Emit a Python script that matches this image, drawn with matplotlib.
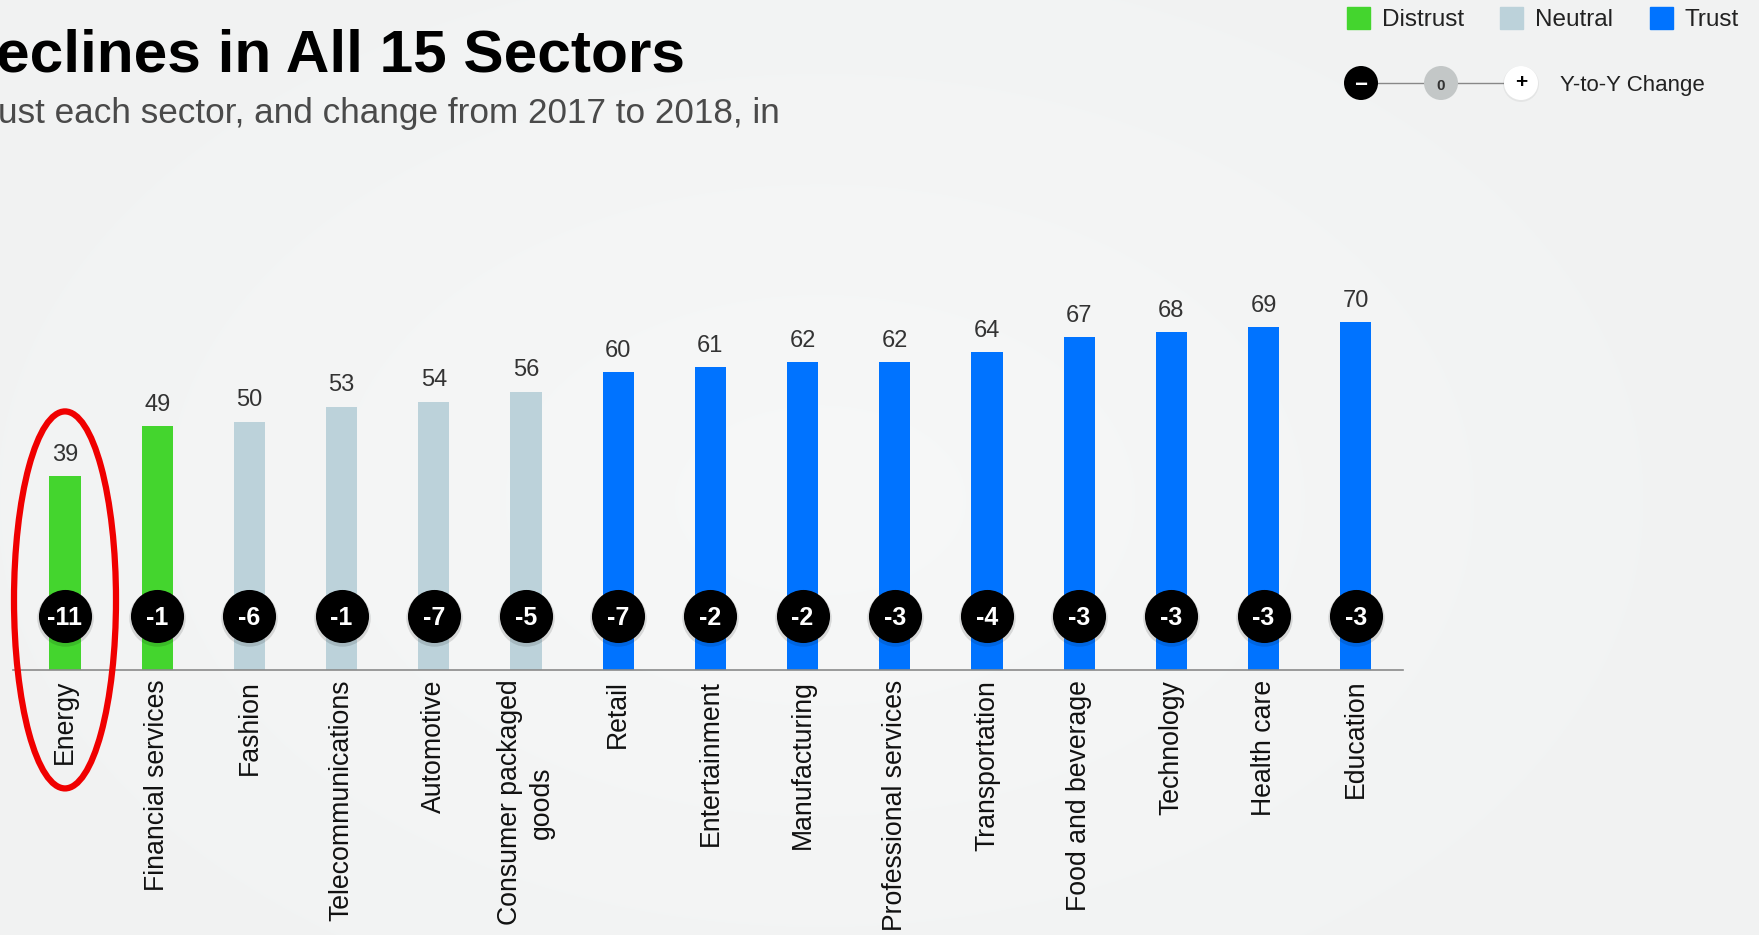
#libs
import numpy as np
import matplotlib.pyplot as plt
from matplotlib.patches import Ellipse, Circle, Rectangle

plt.rcParams['font.family'] = ['Liberation Sans', 'DejaVu Sans']

#data
sectors = ['Energy', 'Financial services', 'Fashion', 'Telecommunications', 'Automotive',
           'Consumer packaged\ngoods', 'Retail', 'Entertainment', 'Manufacturing',
           'Professional services', 'Transportation', 'Food and beverage', 'Technology',
           'Health care', 'Education']
trust = [39, 49, 50, 53, 54, 56, 60, 61, 62, 62, 64, 67, 68, 69, 70]
change = [-11, -1, -6, -1, -7, -5, -7, -2, -2, -3, -4, -3, -3, -3, -3]
group = ['Distrust', 'Distrust', 'Neutral', 'Neutral', 'Neutral', 'Neutral',
         'Trust', 'Trust', 'Trust', 'Trust', 'Trust', 'Trust', 'Trust', 'Trust', 'Trust']
legend_groups = ['Distrust', 'Neutral', 'Trust']

colors = {'Distrust': '#44d52e', 'Neutral': '#bcd2da', 'Trust': '#0073ff'}

W, H = 1759, 935
fig = plt.figure(figsize=(W / 100, H / 100), dpi=100)
fig.patch.set_facecolor('#f2f3f3')

# soft radial glow in the background
bg = fig.add_axes([0, 0, 1, 1], zorder=0)
yy, xx = np.mgrid[0:H, 0:W]
r = np.clip(np.hypot((xx - 820) / 950, (yy - 500) / 620), 0, 1)
c = 0.968 - 0.022 * r
bg.imshow(np.dstack([c, c + 0.004, c + 0.004]), extent=[0, W, H, 0], aspect='auto')
bg.axis('off')

#main chart
px_per_unit = 4.97
ax = fig.add_axes([0, 265 / H, 1403 / W, 80 * px_per_unit / H], zorder=2)
ax.patch.set_alpha(0)
x = np.arange(len(sectors))
ax.bar(x, trust, width=0.34, color=[colors[g] for g in group], zorder=2)

circle_y = 10.9
ax.scatter(x, [circle_y - 0.35] * len(x), s=1650, color='black', alpha=0.12, lw=0, zorder=3)
ax.scatter(x, [circle_y] * len(x), s=1460, color='black', lw=0, zorder=4)
for i, (v, d) in enumerate(zip(trust, change)):
    ax.annotate(str(v), (i, v), xytext=(0, 11), textcoords='offset points',
                ha='center', va='baseline', fontsize=17, color='#333333')
    ax.text(i, circle_y, str(d), ha='center', va='center_baseline', color='white',
            fontsize=18, fontweight='bold', zorder=5)

ax.set_xlim(-52 / 92.2, (1403 - 65) / 92.2)
ax.set_ylim(0, 80)
ax.set_yticks([])
ax.set_xticks(x)
ax.set_xticklabels(sectors, rotation=90, fontsize=19.2, color='#111111',
                   linespacing=1.3, multialignment='center')
ax.tick_params(axis='x', length=0, pad=7)
for s in ['top', 'left', 'right']:
    ax.spines[s].set_visible(False)
ax.spines['bottom'].set_color('#8a8a8a')
ax.spines['bottom'].set_linewidth(1.2)
# axes starts a bit in from the left edge, like the reference
pos = ax.get_position()
ax.set_position([13 / W, pos.y0, (1403 - 13) / W, pos.height])

# red highlight around Energy
e = sectors.index('Energy')
ax.add_patch(Ellipse((e, 14.1), width=102 / 92.2, height=377 / px_per_unit, fill=False,
                     ec='#f00000', lw=4.5, clip_on=False, zorder=6))

#overlay for title and legends (pixel coords)
ov = fig.add_axes([0, 0, 1, 1], zorder=10)
ov.set_xlim(0, W)
ov.set_ylim(H, 0)
ov.axis('off')
ov.patch.set_alpha(0)

ov.text(-4, 71, 'eclines in All 15 Sectors', fontsize=43.5, fontweight='bold',
        va='baseline', ha='left', color='black')
ov.text(-2, 123, 'ust each sector, and change from 2017 to 2018, in', fontsize=25.3,
        color='#4a4a4a', va='baseline', ha='left')

sq_x = [1347, 1500, 1650]
for gx, g in zip(sq_x, legend_groups):
    ov.add_patch(Rectangle((gx, 7), 23, 22, color=colors[g]))
    ov.text(gx + 35, 18, g, fontsize=17.5, color='#222222', va='center_baseline', ha='left')

ov.plot([1361, 1521], [83, 83], color='#888888', lw=1, zorder=1)
ov.add_patch(Circle((1361, 83), 17, fc='black', zorder=2))
ov.add_patch(Circle((1441, 83), 17, fc='#c3c7c7', zorder=2))
ov.add_patch(Circle((1521, 84), 18, fc='black', alpha=0.05, lw=0, zorder=2))
ov.add_patch(Circle((1521, 83), 17, fc='white', zorder=2))
ov.text(1361, 83, '\u2212', color='white', fontsize=16, fontweight='bold',
        ha='center', va='center_baseline', zorder=3)
ov.text(1441, 84, '0', color='#333333', fontsize=11, fontweight='bold',
        ha='center', va='center_baseline', zorder=3)
ov.text(1521, 81, '+', color='black', fontsize=15, fontweight='bold',
        ha='center', va='center_baseline', zorder=3)
ov.text(1560, 83, 'Y-to-Y Change', fontsize=16, color='#222222', va='center_baseline', ha='left')

fig.savefig('out.png', dpi=100, facecolor=fig.get_facecolor())
